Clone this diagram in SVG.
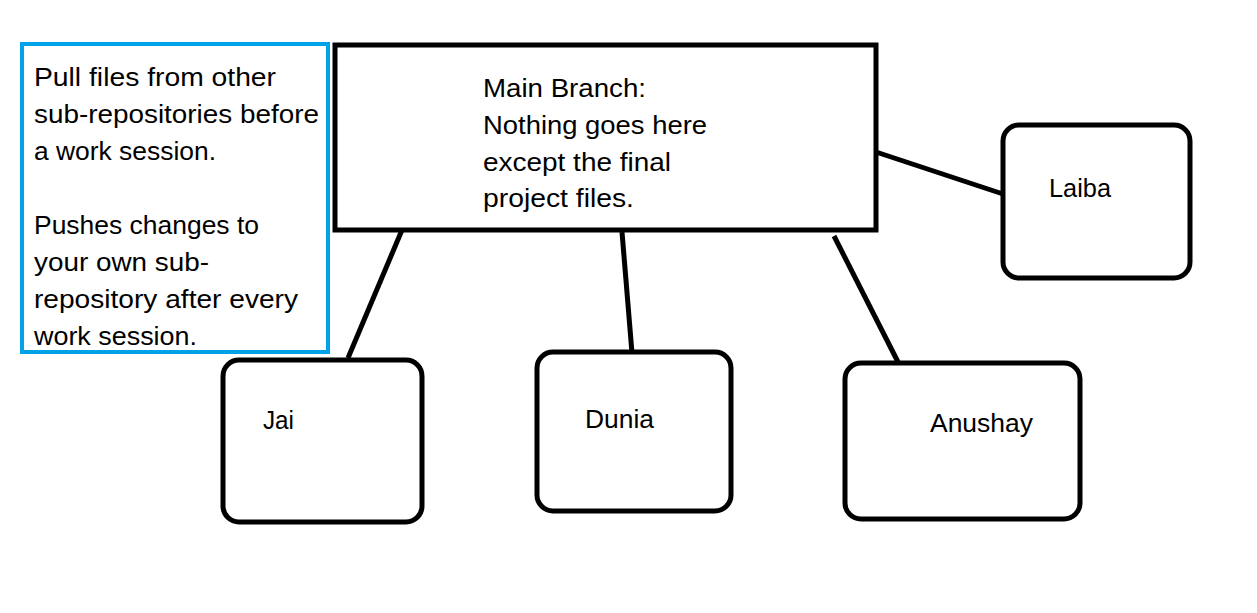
<svg xmlns="http://www.w3.org/2000/svg" width="1257" height="613" viewBox="0 0 1257 613">
<style>
.t{font-family:"Liberation Sans",Arial,sans-serif;font-size:26px;fill:#000}
.box{fill:#fff;stroke:#000;stroke-width:5}
.c{stroke:#000;stroke-width:5;fill:none}
</style>
<rect width="1257" height="613" fill="#fff"/>
<g id="connectors">
<line class="c" x1="402" y1="230" x2="348" y2="358"/>
<line class="c" x1="622" y1="232" x2="632" y2="353"/>
<line class="c" x1="834" y1="236" x2="898" y2="362"/>
<line class="c" x1="876" y1="152" x2="1003" y2="194"/>
</g>
<g id="note">
<rect x="22" y="44" width="306" height="308" fill="#fff" stroke="#00A2E8" stroke-width="4"/>
<text class="t" x="34" y="86" textLength="242" lengthAdjust="spacingAndGlyphs">Pull files from other</text>
<text class="t" x="34" y="123" textLength="285" lengthAdjust="spacingAndGlyphs">sub-repositories before</text>
<text class="t" x="34" y="160" textLength="182" lengthAdjust="spacingAndGlyphs">a work session.</text>
<text class="t" x="34" y="234" textLength="225" lengthAdjust="spacingAndGlyphs">Pushes changes to</text>
<text class="t" x="34" y="271" textLength="175" lengthAdjust="spacingAndGlyphs">your own sub-</text>
<text class="t" x="34" y="308" textLength="264" lengthAdjust="spacingAndGlyphs">repository after every</text>
<text class="t" x="34" y="345" textLength="163" lengthAdjust="spacingAndGlyphs">work session.</text>
</g>
<g id="main">
<rect class="box" x="335" y="45" width="541" height="185"/>
<text class="t" x="483" y="97" textLength="163" lengthAdjust="spacingAndGlyphs">Main Branch:</text>
<text class="t" x="483" y="134" textLength="224" lengthAdjust="spacingAndGlyphs">Nothing goes here</text>
<text class="t" x="483" y="171" textLength="188" lengthAdjust="spacingAndGlyphs">except the final</text>
<text class="t" x="483" y="207" textLength="151" lengthAdjust="spacingAndGlyphs">project files.</text>
</g>
<g id="laiba">
<rect class="box" x="1003" y="125" width="187" height="153" rx="16"/>
<text class="t" x="1049" y="197" textLength="62" lengthAdjust="spacingAndGlyphs">Laiba</text>
</g>
<g id="jai">
<rect class="box" x="223" y="360" width="199" height="162" rx="16"/>
<text class="t" x="263" y="429" textLength="31" lengthAdjust="spacingAndGlyphs">Jai</text>
</g>
<g id="dunia">
<rect class="box" x="537" y="352" width="194" height="159" rx="16"/>
<text class="t" x="585" y="428" textLength="69" lengthAdjust="spacingAndGlyphs">Dunia</text>
</g>
<g id="anushay">
<rect class="box" x="845" y="363" width="235" height="156" rx="16"/>
<text class="t" x="930" y="432" textLength="103" lengthAdjust="spacingAndGlyphs">Anushay</text>
</g>
</svg>
